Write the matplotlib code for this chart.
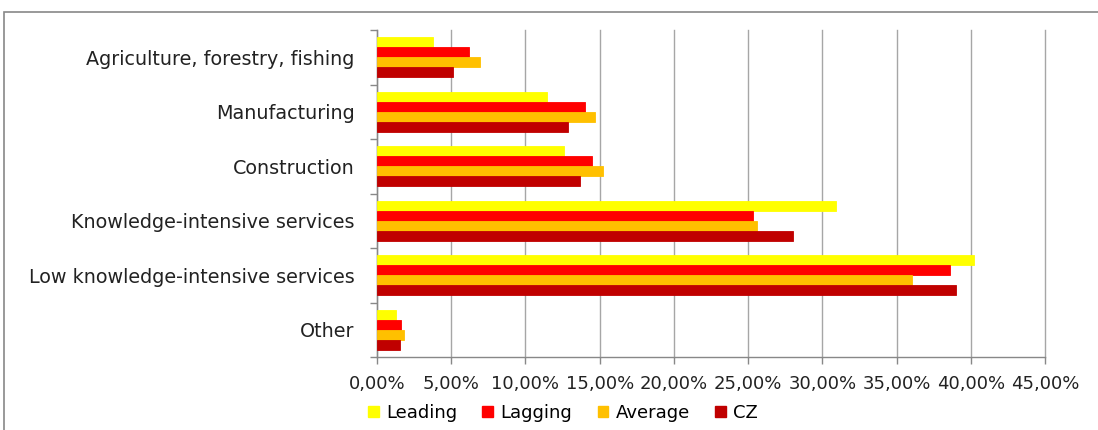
import matplotlib
matplotlib.use("Agg")
import matplotlib.pyplot as plt
from matplotlib.patches import Rectangle, Patch
from matplotlib.ticker import FuncFormatter, FixedLocator
import numpy as np

categories = ["Agriculture, forestry, fishing", "Manufacturing", "Construction",
              "Knowledge-intensive services", "Low knowledge-intensive services", "Other"]
series_names = ["Leading", "Lagging", "Average", "CZ"]
leading = [3.75, 11.45, 12.58, 30.9, 40.2, 1.3]
lagging = [6.22, 14.0, 14.45, 25.3, 38.6, 1.62]
average = [6.92, 14.68, 15.22, 25.6, 36.05, 1.83]
cz = [5.14, 12.9, 13.67, 28.05, 39.0, 1.53]
colors = ["#FFFF00", "#FF0000", "#FFC000", "#C00000"]

plt.rcParams['font.family'] = ['DejaVu Sans']
W, H = 1098, 430
fig = plt.figure(figsize=(W / 100, H / 100), dpi=100)
ax = fig.add_axes([377 / W, 1 - 357 / H, (1045 - 377) / W, (357 - 30) / H])

y = np.arange(len(categories))
h = 0.183
for i, (vals, col) in enumerate(zip([leading, lagging, average, cz], colors)):
    ax.barh(y + (i - 1.5) * h, vals, height=h, color=col, edgecolor=col,
            linewidth=0.6, label=series_names[i], zorder=3)

ax.set_ylim(len(categories) - 0.5, -0.5)
ax.set_xlim(0, 45)
ax.set_xticks(np.arange(0, 46, 5))
ax.xaxis.set_major_formatter(FuncFormatter(lambda v, p: ("%.2f%%" % v).replace(".", ",")))
ax.grid(axis="x", color="#a6a6a6", linewidth=1.0, zorder=0)
for gl in ax.get_xgridlines():
    gl.set_clip_on(False)

ax.yaxis.set_major_locator(FixedLocator(np.arange(-0.5, len(categories), 1.0)))
ax.yaxis.set_major_formatter(FuncFormatter(lambda v, p: ""))
ax.yaxis.set_minor_locator(FixedLocator(y))
ax.set_yticklabels(categories, minor=True)
ax.tick_params(axis="y", which="minor", length=0, pad=16, labelsize=13.8, labelcolor="#222222")
ax.tick_params(axis="y", which="major", length=5, color="#888888", width=1)
ax.tick_params(axis="x", length=5, color="#888888", width=1, pad=8, labelsize=13, labelcolor="#222222")

for s in ["top", "right"]:
    ax.spines[s].set_visible(False)
for s in ["left", "bottom"]:
    ax.spines[s].set_color("#888888")
    ax.spines[s].set_linewidth(1)

handles = [Patch(facecolor=c, edgecolor=c) for c in colors]
fig.legend(handles, series_names, loc="center", ncol=4, frameon=False,
           bbox_to_anchor=(563 / W, 1 - 413 / H), fontsize=13,
           handlelength=0.6, handleheight=0.6, handletextpad=0.4, columnspacing=1.4)

fig.patches.append(Rectangle((4 / W, -0.1), 1.2, 1.1 - 12 / H, transform=fig.transFigure,
                             fill=False, edgecolor="#888888", linewidth=1.2))

fig.savefig("out.png", dpi=100)
